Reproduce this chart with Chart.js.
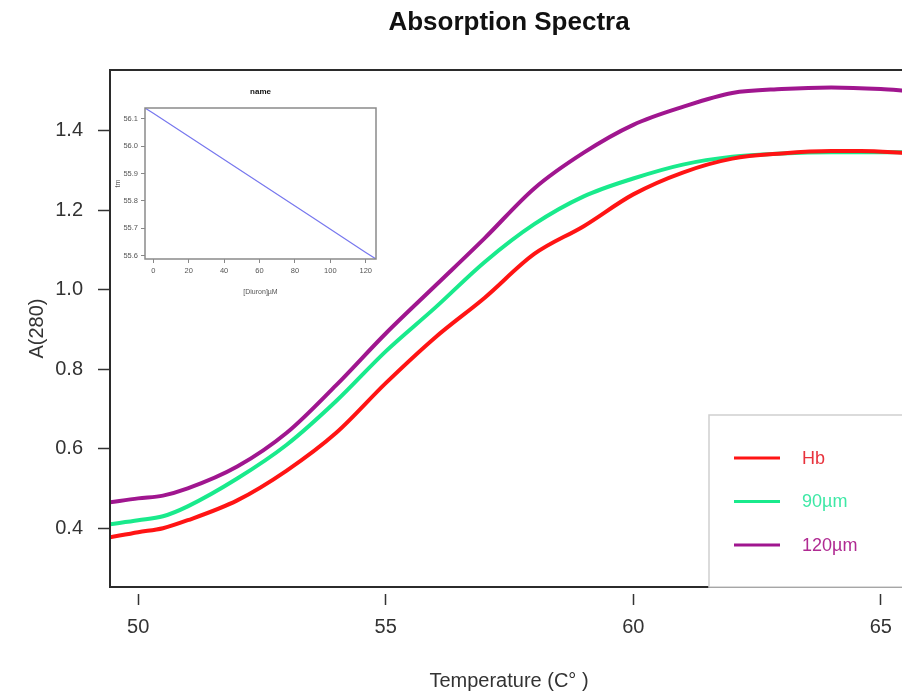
<!DOCTYPE html>
<html>
<head>
<meta charset="utf-8">
<script src="https://cdn.jsdelivr.net/npm/chart.js@4/dist/chart.umd.min.js"></script>
<style>
  html, body { margin: 0; padding: 0; background: #fff; overflow: hidden; width: 902px; height: 697px; }
  #wrap { position: relative; width: 902px; height: 697px; overflow: hidden; }
  #main { position: absolute; left: 0; top: 0; }
  #inset { position: absolute; left: 110px; top: 80px; }
</style>
</head>
<body>
<div id="wrap">
  <canvas id="main" width="908" height="697"></canvas>
  <canvas id="inset" width="280" height="222"></canvas>
</div>
<script>
// Temperature (C°) and A(280) readings for each sample
const tempHb = [49.43, 50, 50.5, 51, 52, 53, 54, 55, 56, 57, 58, 59, 60, 61, 62, 63, 64, 64.6, 65.55];
const absHb  = [0.377, 0.39, 0.40, 0.42, 0.47, 0.545, 0.64, 0.765, 0.88, 0.98, 1.09, 1.16, 1.24, 1.295, 1.33, 1.343, 1.349, 1.349, 1.344];

const temp90 = [49.43, 50, 50.5, 51, 52, 53, 54, 55, 56, 57, 58, 59, 60, 61, 62, 63, 64, 65.55];
const abs90  = [0.41, 0.42, 0.43, 0.455, 0.525, 0.61, 0.72, 0.845, 0.955, 1.07, 1.165, 1.235, 1.28, 1.315, 1.335, 1.343, 1.346, 1.346];

const temp120 = [49.43, 50, 50.5, 51, 52, 53, 54, 55, 56, 57, 58, 59, 60, 61, 62, 63, 64, 65, 65.55];
const abs120  = [0.465, 0.475, 0.482, 0.50, 0.555, 0.64, 0.76, 0.89, 1.01, 1.13, 1.255, 1.345, 1.415, 1.46, 1.495, 1.505, 1.509, 1.505, 1.50];

const seriesLabels = ['Hb', '90µm', '120µm'];
const seriesColors = ['#ff1414', '#19ea8c', '#a0168f'];
const legendTextColors = ['#e8323c', '#3ee8a6', '#b02a92'];

// inset: tm vs [Diuron]
const diuron = [-4.7, 0, 30, 60, 90, 120, 125.8];
const tmVals = [56.139, 56.12, 55.993, 55.866, 55.739, 55.612, 55.588];

const FONT = '"Liberation Sans", Arial, sans-serif';

function toPoints(xs, ys) {
  return xs.map((x, i) => ({ x: x, y: ys[i] }));
}

// plot box + R-style legend
const boxAndLegend = {
  id: 'boxAndLegend',
  afterDatasetsDraw(chart) {
    const ctx = chart.ctx;
    const a = chart.chartArea;
    ctx.save();
    ctx.strokeStyle = '#2b2b2b';
    ctx.lineWidth = 2;
    ctx.strokeRect(a.left, a.top, a.right - a.left + 20, a.bottom - a.top);

    // legend box
    const lx = a.right - 199, ly = a.bottom - 172;
    ctx.fillStyle = '#fff';
    ctx.fillRect(lx, ly, 300, 172);
    ctx.strokeStyle = '#cfcfcf';
    ctx.lineWidth = 1.5;
    ctx.strokeRect(lx, ly, 300, 172);

    ctx.font = '18px ' + FONT;
    ctx.textBaseline = 'middle';
    chart.data.datasets.forEach((ds, i) => {
      const y = ly + 43 + i * 43.5;
      ctx.strokeStyle = ds.borderColor;
      ctx.lineWidth = 3;
      ctx.beginPath();
      ctx.moveTo(lx + 25, y);
      ctx.lineTo(lx + 71, y);
      ctx.stroke();
      ctx.fillStyle = legendTextColors[i];
      ctx.fillText(ds.label, lx + 93, y + 1);
    });
    ctx.restore();
  }
};

new Chart(document.getElementById('main'), {
  type: 'line',
  data: {
    datasets: [
      { label: seriesLabels[0], data: toPoints(tempHb, absHb), borderColor: seriesColors[0] },
      { label: seriesLabels[1], data: toPoints(temp90, abs90), borderColor: seriesColors[1] },
      { label: seriesLabels[2], data: toPoints(temp120, abs120), borderColor: seriesColors[2] }
    ]
  },
  options: {
    responsive: false,
    animation: false,
    devicePixelRatio: 1,
    layout: { padding: { left: 0, right: 0, top: 0, bottom: 0 } },
    elements: {
      point: { radius: 0 },
      line: { borderWidth: 4, cubicInterpolationMode: 'monotone', fill: false }
    },
    plugins: {
      legend: { display: false },
      tooltip: { enabled: false },
      title: {
        display: true,
        fullSize: false,
        text: 'Absorption Spectra',
        color: '#111',
        font: { family: FONT, size: 26, weight: 'bold' },
        padding: { top: 7.5, bottom: 31.3 }
      }
    },
    scales: {
      x: {
        type: 'linear',
        min: 49.43,
        max: 65.55,
        afterFit: s => { s.height = 110; },
        border: { display: false },
        grid: {
          drawOnChartArea: false,
          tickLength: 18,
          tickColor: '#333',
          tickWidth: 1.5,
          tickBorderDash: [0, 7, 11, 100]
        },
        ticks: {
          stepSize: 5,
          includeBounds: false,
          padding: 10,
          color: '#333',
          font: { family: FONT, size: 20 },
          callback: v => String(v)
        },
        title: {
          display: true,
          text: 'Temperature (C° )',
          color: '#333',
          font: { family: FONT, size: 20 },
          padding: { top: 4, bottom: 4 }
        }
      },
      y: {
        type: 'linear',
        min: 0.252,
        max: 1.553,
        afterFit: s => { s.width = 110; },
        border: { display: false },
        grid: {
          drawOnChartArea: false,
          tickLength: 12,
          tickColor: '#333',
          tickWidth: 1.5
        },
        ticks: {
          stepSize: 0.2,
          includeBounds: false,
          padding: 15,
          color: '#333',
          font: { family: FONT, size: 20 },
          callback: v => v.toFixed(1)
        },
        title: {
          display: true,
          text: 'A(280)',
          color: '#333',
          font: { family: FONT, size: 20 },
          padding: { top: 25, bottom: 0 }
        }
      }
    }
  },
  plugins: [boxAndLegend]
});

// inset box
const insetBox = {
  id: 'insetBox',
  afterDatasetsDraw(chart) {
    const ctx = chart.ctx;
    const a = chart.chartArea;
    ctx.save();
    ctx.strokeStyle = '#8a8a8a';
    ctx.lineWidth = 1.5;
    ctx.strokeRect(a.left, a.top, a.right - a.left, a.bottom - a.top);
    ctx.restore();
  }
};

new Chart(document.getElementById('inset'), {
  type: 'line',
  data: {
    datasets: [
      { label: 'tm', data: toPoints(diuron, tmVals), borderColor: '#7777ee', borderWidth: 1.2, pointRadius: 0, tension: 0 }
    ]
  },
  options: {
    responsive: false,
    animation: false,
    devicePixelRatio: 1,
    layout: { padding: { left: 0, right: 14, top: 0, bottom: 0 } },
    plugins: {
      legend: { display: false },
      tooltip: { enabled: false },
      title: {
        display: true,
        fullSize: false,
        text: 'name',
        color: '#111',
        font: { family: FONT, size: 8, weight: 'bold' },
        padding: { top: 7, bottom: 11.4 }
      }
    },
    scales: {
      x: {
        type: 'linear',
        min: -4.7,
        max: 125.8,
        afterFit: s => { s.height = 43; },
        border: { display: false },
        grid: { drawOnChartArea: false, tickLength: 4, tickColor: '#888' },
        ticks: {
          stepSize: 20,
          includeBounds: false,
          padding: 3,
          color: '#555',
          font: { family: FONT, size: 7.5 },
          callback: v => String(v)
        },
        title: {
          display: true,
          text: '[Diuron]µM',
          color: '#555',
          font: { family: FONT, size: 7 },
          padding: { top: 2, bottom: 6 }
        }
      },
      y: {
        type: 'linear',
        min: 55.588,
        max: 56.139,
        afterFit: s => { s.width = 35; },
        border: { display: false },
        grid: { drawOnChartArea: false, tickLength: 4, tickColor: '#888' },
        ticks: {
          stepSize: 0.1,
          includeBounds: false,
          padding: 3,
          color: '#555',
          font: { family: FONT, size: 7.5 },
          callback: v => v.toFixed(1)
        },
        title: {
          display: true,
          text: 'tm',
          color: '#555',
          font: { family: FONT, size: 7 },
          padding: { top: 4, bottom: 0 }
        }
      }
    }
  },
  plugins: [insetBox]
});
</script>
</body>
</html>
